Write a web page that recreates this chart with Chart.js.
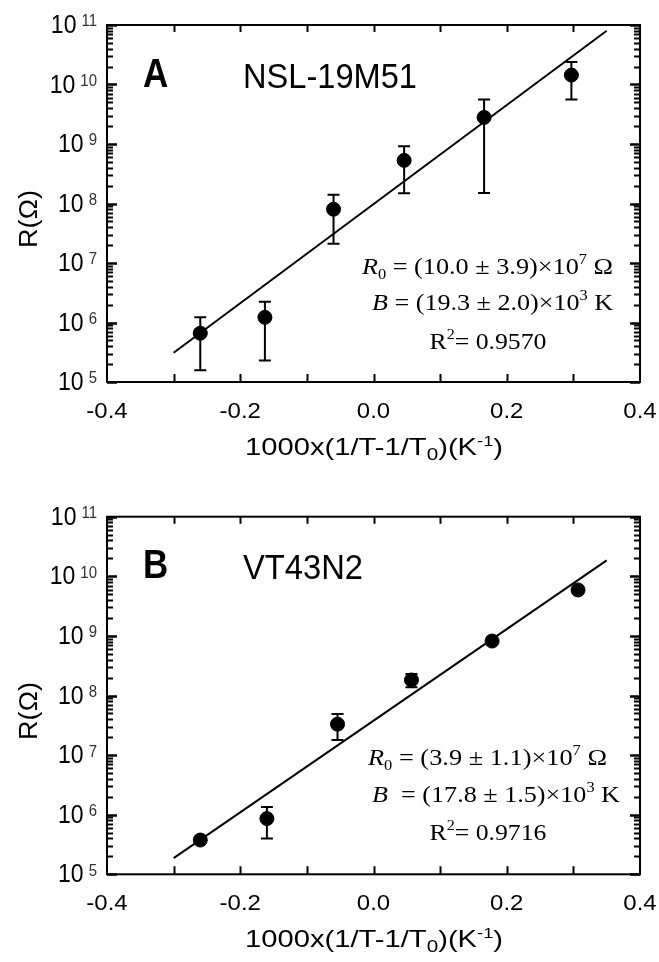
<!DOCTYPE html>
<html>
<head>
<meta charset="utf-8">
<script src="https://cdn.jsdelivr.net/npm/chart.js@4.4.1/dist/chart.umd.min.js"></script>
<style>
  html, body { margin: 0; padding: 0; background: #fff; }
  #wrap { position: relative; width: 659px; height: 962px; }
  canvas { position: absolute; left: 0; }
</style>
</head>
<body>
<div id="wrap">
  <canvas id="cA" width="659" height="470" style="top:0px"></canvas>
  <canvas id="cB" width="659" height="492" style="top:470px"></canvas>
</div>
<script>
// ---------------- DATA ----------------
const xTickValues = [-0.4, -0.2, 0.0, 0.2, 0.4];
const xTickLabels = ['-0.4', '-0.2', '0.0', '0.2', '0.4'];
const yTickExponents = [5, 6, 7, 8, 9, 10, 11];

// Panel A : NSL-19M51
const xA = [-0.26, -0.163, -0.06, 0.046, 0.166, 0.297];
const rA = [6.6e5, 1.22e6, 8.0e7, 5.3e8, 2.8e9, 1.44e10];
const rAHigh = [1.22e6, 2.24e6, 1.4e8, 9.2e8, 5.6e9, 2.4e10];
const rALow = [1.57e5, 2.3e5, 2.1e7, 1.48e8, 1.5e8, 5.6e9];
const fitX = [-0.3, 0.35];
const fitA = [3.1e5, 8.0e10];

// Panel B : VT43N2
const xB = [-0.26, -0.16, -0.054, 0.057, 0.178, 0.307];
const rB = [3.76e5, 8.6e5, 3.3e7, 1.82e8, 8.2e8, 5.9e9];
const rBHigh = [null, 1.35e6, 4.9e7, 2.3e8, null, null];
const rBLow = [null, 4.0e5, 1.8e7, 1.37e8, null, null];
const fitB = [1.87e5, 1.85e10];

// ---------------- HELPERS ----------------
const SANS = "'Liberation Sans', Arial, sans-serif";
const SERIF = "'Liberation Serif', 'Times New Roman', serif";

function drawRich(ctx, parts, x, y, opt) {
  opt = opt || {};
  ctx.save();
  let w = 0; const ws = [];
  for (const p of parts) { ctx.font = p.font; const m = ctx.measureText(p.t).width; ws.push(m); w += m + (p.gap || 0); }
  const sx = opt.width ? opt.width / w : (opt.sx || 1);
  const tw = w * sx;
  const x0 = opt.align === 'right' ? x - tw : opt.align === 'center' ? x - tw / 2 : x;
  ctx.translate(x0, y);
  ctx.scale(sx, opt.sy || 1);
  ctx.textBaseline = 'alphabetic';
  ctx.textAlign = 'left';
  let cx = 0;
  parts.forEach((p, i) => {
    ctx.font = p.font;
    ctx.fillStyle = p.color || opt.color || '#000';
    ctx.fillText(p.t, cx, p.dy || 0);
    cx += ws[i] + (p.gap || 0);
  });
  ctx.restore();
}

function makePanel(canvasId, cfg) {
  const framePlugin = {
    id: 'frame' + canvasId,
    beforeDatasetsDraw(chart) {
      const ctx = chart.ctx, xs = chart.scales.x, ys = chart.scales.y;
      ctx.save();
      ctx.strokeStyle = '#000';
      ctx.lineWidth = 2;
      for (let i = 0; i < cfg.xs.length; i++) {
        const lo = cfg.lo[i], hi = cfg.hi[i];
        if (lo == null || hi == null) continue;
        const px = xs.getPixelForValue(cfg.xs[i]);
        const y1 = ys.getPixelForValue(lo), y2 = ys.getPixelForValue(hi);
        ctx.beginPath();
        ctx.moveTo(px, y1); ctx.lineTo(px, y2);
        ctx.moveTo(px - 6, y1); ctx.lineTo(px + 6, y1);
        ctx.moveTo(px - 6, y2); ctx.lineTo(px + 6, y2);
        ctx.stroke();
      }
      ctx.restore();
    },
    afterDraw(chart) {
      const ctx = chart.ctx, xs = chart.scales.x, ys = chart.scales.y;
      const a = chart.chartArea;
      ctx.save();
      ctx.strokeStyle = '#000';
      // frame
      ctx.lineWidth = 2;
      ctx.strokeRect(a.left, a.top, a.right - a.left, a.bottom - a.top);
      // y ticks (left & right, inward)
      for (let e = 5; e <= 11; e++) {
        for (let m = 1; m <= 9; m++) {
          if (e === 11 && m > 1) break;
          const v = m * Math.pow(10, e);
          const py = Math.round(ys.getPixelForValue(v)) + 0.5;
          const len = m === 1 ? 10 : 6;
          ctx.lineWidth = m === 1 ? 2.5 : 1.8;
          ctx.beginPath();
          ctx.moveTo(a.left, py); ctx.lineTo(a.left + len, py);
          ctx.moveTo(a.right, py); ctx.lineTo(a.right - len, py);
          ctx.stroke();
        }
      }
      // x ticks (top & bottom, inward)
      ctx.lineWidth = 2;
      for (let k = -3; k <= 3; k++) {
        const px = Math.round(xs.getPixelForValue(k / 10)) + 0.5;
        ctx.beginPath();
        ctx.moveTo(px, a.bottom); ctx.lineTo(px, a.bottom - 8);
        ctx.moveTo(px, a.top); ctx.lineTo(px, a.top + 7);
        ctx.stroke();
      }
      // y tick labels
      yTickExponents.forEach(e => {
        const py = ys.getPixelForValue(Math.pow(10, e));
        drawRich(ctx, [
          { t: '10', font: '23px ' + SANS, gap: 5 },
          { t: String(e), font: '15px ' + SANS, dy: -6, color: '#333' }
        ], a.left - 10, py + 8, { align: 'right', sy: 1.1 });
      });
      // x tick labels
      xTickValues.forEach((v, i) => {
        const px = xs.getPixelForValue(v);
        drawRich(ctx, [{ t: xTickLabels[i], font: '24px ' + SANS }], px, a.bottom + 36, { align: 'center', sy: 0.95 });
      });
      // x title
      drawRich(ctx, [
        { t: '1000x(1/T-1/T', font: '24px ' + SANS },
        { t: '0', font: '17px ' + SANS, dy: 5 },
        { t: ')(K', font: '24px ' + SANS },
        { t: '-1', font: '15px ' + SANS, dy: -9 },
        { t: ')', font: '24px ' + SANS }
      ], 374, a.bottom + 72.5, { align: 'center', width: 258 });
      // y title (rotated)
      ctx.save();
      ctx.translate(0, cfg.yTitleY);
      ctx.rotate(-Math.PI / 2);
      drawRich(ctx, [{ t: 'R(\u03A9)', font: '25px ' + SANS }], 0, 37, { align: 'center', width: 58 });
      ctx.restore();
      // panel letter & sample name
      drawRich(ctx, [{ t: cfg.letter, font: 'bold 35px ' + SANS }], 143, cfg.labelBase, { align: 'left', sy: 1.15 });
      drawRich(ctx, [{ t: cfg.name, font: '32px ' + SANS }], 243, cfg.labelBase + 1, { align: 'left', width: cfg.nameWidth, sy: 1.12 });
      // annotations
      cfg.ann.forEach(an => drawRich(ctx, an.parts, an.x, an.y, { align: an.align, width: an.width }));
      ctx.restore();
    }
  };

  return new Chart(document.getElementById(canvasId), {
    type: 'scatter',
    data: {
      datasets: [
        {
          type: 'line',
          data: fitX.map((x, i) => ({ x: x, y: cfg.fit[i] })),
          borderColor: '#000',
          borderWidth: 2,
          pointRadius: 0,
          fill: false,
          tension: 0
        },
        {
          data: cfg.xs.map((x, i) => ({ x: x, y: cfg.ys[i] })),
          backgroundColor: '#000',
          borderColor: '#000',
          pointRadius: 7,
          pointHoverRadius: 7
        }
      ]
    },
    options: {
      responsive: false,
      animation: false,
      events: [],
      layout: { padding: cfg.padding },
      plugins: { legend: { display: false }, tooltip: { enabled: false } },
      scales: {
        x: { type: 'linear', min: -0.4, max: 0.4, display: false },
        y: { type: 'logarithmic', min: 1e5, max: 1e11, display: false }
      }
    },
    plugins: [framePlugin]
  });
}

const R = '24px ' + SERIF, RI = 'italic 24px ' + SERIF, RS = '15px ' + SERIF;

makePanel('cA', {
  xs: xA, ys: rA, lo: rALow, hi: rAHigh, fit: fitA,
  letter: 'A', name: 'NSL-19M51', nameWidth: 174, labelBase: 87, yTitleY: 219,
  padding: { top: 25, left: 107, right: 19, bottom: 88 },
  ann: [
    { parts: [{ t: 'R', font: RI }, { t: '0', font: RS, dy: 5 }, { t: ' = (10.0 \u00B1 3.9)\u00D710', font: R }, { t: '7', font: RS, dy: -10 }, { t: ' \u03A9', font: R }], x: 613, y: 274, align: 'right', width: 251 },
    { parts: [{ t: 'B', font: RI }, { t: ' = (19.3 \u00B1 2.0)\u00D710', font: R }, { t: '3', font: RS, dy: -10 }, { t: ' K', font: R }], x: 613, y: 310, align: 'right', width: 241 },
    { parts: [{ t: 'R', font: R }, { t: '2', font: RS, dy: -10 }, { t: '= 0.9570', font: R }], x: 488, y: 349, align: 'center', width: 117 }
  ]
});

makePanel('cB', {
  xs: xB, ys: rB, lo: rBLow, hi: rBHigh, fit: fitB,
  letter: 'B', name: 'VT43N2', nameWidth: 120, labelBase: 108, yTitleY: 241,
  padding: { top: 46.7, left: 107, right: 19, bottom: 87.7 },
  ann: [
    { parts: [{ t: 'R', font: RI }, { t: '0', font: RS, dy: 5 }, { t: ' = (3.9 \u00B1 1.1)\u00D710', font: R }, { t: '7', font: RS, dy: -10 }, { t: ' \u03A9', font: R }], x: 368, y: 295, align: 'left', width: 239 },
    { parts: [{ t: 'B', font: RI }, { t: '  = (17.8 \u00B1 1.5)\u00D710', font: R }, { t: '3', font: RS, dy: -10 }, { t: ' K', font: R }], x: 372, y: 332, align: 'left', width: 248 },
    { parts: [{ t: 'R', font: R }, { t: '2', font: RS, dy: -10 }, { t: '= 0.9716', font: R }], x: 488, y: 370, align: 'center', width: 117 }
  ]
});
</script>
</body>
</html>
